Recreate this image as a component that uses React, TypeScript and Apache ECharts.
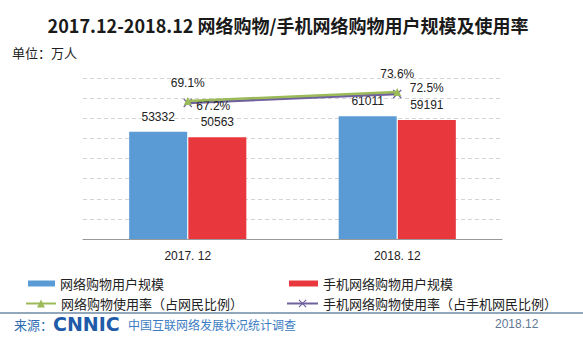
import React, { useEffect, useRef } from 'react';
import * as echarts from 'echarts';

const categories = ['2017. 12', '2018. 12'];
const onlineShoppers = [53332, 61011];
const mobileShoppers = [50563, 59191];
const onlineRate = [69.1, 73.6];
const mobileRate = [67.2, 72.5];

const NAME_BAR1 = '网络购物用户规模';
const NAME_BAR2 = '手机网络购物用户规模';
const NAME_LINE1 = '网络购物使用率（占网民比例）';
const NAME_LINE2 = '手机网络购物使用率（占手机网民比例）';

const CJK = '"Noto Sans CJK SC", "Noto Sans", sans-serif';
const LATIN = '"Liberation Sans", Arial, sans-serif';

const X_SYMBOL =
  'path://M1,0 L5,4 L9,0 L10,1 L6,5 L10,9 L9,10 L5,6 L1,10 L0,9 L4,5 L0,1 Z';

const mobileRateLabelOffsets = [
  [2, 3],
  [6, -6],
];

export default function App() {
  const ref = useRef<HTMLDivElement>(null);
  useEffect(() => {
    const chart = echarts.init(ref.current!, null, { renderer: 'svg' });
    const legendText = { fontFamily: CJK, fontSize: 13, color: '#222' };
    const option: any = {
      animation: false,
      backgroundColor: '#fff',
      grid: { left: 83, right: 81, top: 78, bottom: 99 },
      xAxis: {
        type: 'category',
        data: categories,
        axisLine: { lineStyle: { color: '#999', width: 1 } },
        axisTick: { inside: true, length: 6, lineStyle: { color: '#999' } },
        axisLabel: { color: '#222', fontFamily: LATIN, fontSize: 12, margin: 11 },
      },
      yAxis: [
        {
          type: 'value',
          min: 0,
          max: 80000,
          interval: 10000,
          axisLabel: { show: false },
          axisLine: { show: false },
          axisTick: { show: false },
          splitLine: { lineStyle: { color: '#d4d4d4', type: [4, 3] } },
        },
        { type: 'value', min: 0, max: 80.6, show: false, splitLine: { show: false } },
        { type: 'value', min: -12.9, max: 81.9, show: false, splitLine: { show: false } },
      ],
      legend: [
        { data: [NAME_BAR1], left: 28, top: 277, padding: 0, itemWidth: 27, itemHeight: 6, icon: 'rect', textStyle: legendText },
        { data: [NAME_BAR2], left: 289, top: 277, padding: 0, itemWidth: 29, itemHeight: 6, icon: 'rect', textStyle: legendText },
        { data: [NAME_LINE1], left: 25, top: 297, padding: 0, itemWidth: 30, itemHeight: 10, textStyle: legendText },
        { data: [NAME_LINE2], left: 286, top: 297, padding: 0, itemWidth: 31, itemHeight: 10, textStyle: legendText },
      ],
      series: [
        {
          name: NAME_BAR1,
          type: 'bar',
          data: onlineShoppers,
          barWidth: 58,
          barGap: '2%',
          itemStyle: { color: '#5b9bd5' },
          label: { show: true, position: 'top', distance: 9, color: '#222', fontFamily: LATIN, fontSize: 12 },
        },
        {
          name: NAME_BAR2,
          type: 'bar',
          data: mobileShoppers,
          barWidth: 58,
          barGap: '2%',
          itemStyle: { color: '#e8383d' },
          label: { show: true, position: 'top', distance: 9, color: '#222', fontFamily: LATIN, fontSize: 12 },
        },
        {
          name: NAME_LINE1,
          type: 'line',
          yAxisIndex: 1,
          data: onlineRate,
          symbol: 'triangle',
          symbolSize: 8,
          lineStyle: { color: '#9bbb59', width: 2.5 },
          itemStyle: { color: '#9bbb59' },
          label: { show: true, position: 'top', distance: 8, formatter: '{c}%', color: '#222', fontFamily: LATIN, fontSize: 12 },
          z: 3,
        },
        {
          name: NAME_LINE2,
          type: 'line',
          yAxisIndex: 2,
          data: mobileRate.map((v, i) => ({
            value: v,
            label: { offset: mobileRateLabelOffsets[i] },
          })),
          symbol: X_SYMBOL,
          symbolSize: 9,
          lineStyle: { color: '#6f609e', width: 2.5 },
          itemStyle: { color: '#6f609e' },
          label: { show: true, position: 'right', distance: 2, formatter: '{c}%', color: '#222', fontFamily: LATIN, fontSize: 12 },
          z: 2,
        },
      ],
      graphic: [
        {
          type: 'text',
          x: 288,
          y: 25,
          style: {
            text: '2017.12-2018.12 网络购物/手机网络购物用户规模及使用率',
            font: `bold 18px ${CJK}`,
            fill: '#1a1a1a',
            textAlign: 'center',
            textVerticalAlign: 'middle',
          },
        },
        {
          type: 'text',
          x: 12,
          y: 52,
          style: { text: '单位：万人', font: `13px ${CJK}`, fill: '#222', textVerticalAlign: 'middle' },
        },
        {
          type: 'line',
          shape: { x1: 0, y1: 313, x2: 583, y2: 313 },
          style: { stroke: '#6d8aa6', lineWidth: 1.5 },
        },
        {
          type: 'text',
          x: 14,
          y: 324,
          style: { text: '来源：', font: `13px ${CJK}`, fill: '#2f6db0', textVerticalAlign: 'middle' },
        },
        {
          type: 'text',
          x: 53,
          y: 324,
          style: { text: 'CNNIC', font: `900 19px "DejaVu Sans", sans-serif`, fill: '#1f5ba8', textVerticalAlign: 'middle' },
        },
        {
          type: 'text',
          x: 128,
          y: 324,
          style: { text: '中国互联网络发展状况统计调查', font: `12px ${CJK}`, fill: '#3c7cc2', textVerticalAlign: 'middle' },
        },
        {
          type: 'text',
          x: 495,
          y: 324,
          style: { text: '2018.12', font: `12px ${LATIN}`, fill: '#5f7894', textVerticalAlign: 'middle' },
        },
      ],
    };
    chart.setOption(option);
    return () => chart.dispose();
  }, []);
  return (
    <div
      ref={ref}
      style={{ position: 'absolute', left: 0, top: 0, width: 583, height: 338 }}
    />
  );
}
